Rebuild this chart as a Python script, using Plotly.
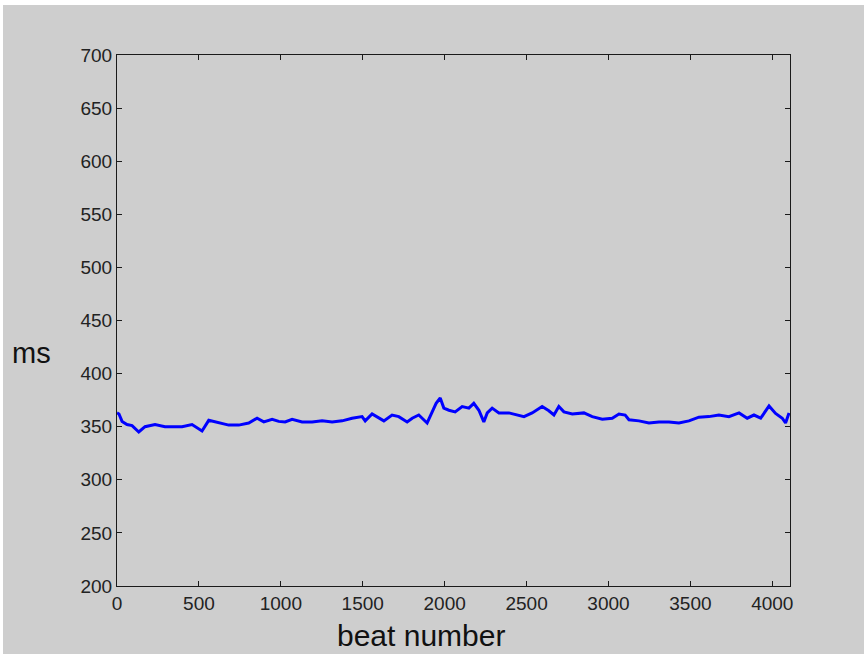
import plotly.graph_objects as go

# Beat-to-beat interval trace (beat index vs. interval in ms)
beats = [0, 12, 31, 61, 92, 133, 171, 232, 293, 354, 397, 458, 519, 560, 621, 682,
         743, 804, 855, 896, 947, 987, 1026, 1069, 1130, 1191, 1252, 1313, 1374, 1435,
         1496, 1515, 1557, 1598, 1629, 1679, 1720, 1771, 1802, 1842, 1893, 1924, 1948,
         1973, 1995, 2026, 2064, 2107, 2148, 2178, 2209, 2239, 2260, 2290, 2331, 2392,
         2453, 2484, 2534, 2595, 2636, 2667, 2697, 2728, 2779, 2850, 2901, 2962, 3023,
         3064, 3102, 3125, 3186, 3247, 3308, 3369, 3430, 3491, 3552, 3613, 3674, 3735,
         3797, 3847, 3888, 3929, 3980, 4020, 4061, 4081, 4102]
ms = [363, 362, 355, 352, 351, 345, 350, 352, 350, 350, 350, 352, 346, 356, 353.5, 351.5,
      351.5, 353.5, 358, 354.5, 357, 355, 354.5, 357, 354.5, 354.5, 355.5, 354.5, 355.5, 358,
      359.5, 355.5, 362, 358, 355.5, 361, 359.5, 354.5, 358, 361, 353.5, 364, 372,
      377, 367.5, 365.5, 364, 369, 367.5, 372, 365.5, 354.5, 363, 367.5, 363, 363,
      361, 359.5, 363, 369, 365, 361, 369, 364, 362, 363, 359.5, 357, 358,
      362, 361, 356.5, 355.5, 353.5, 354.5, 354.5, 353.5, 355.5, 359, 359.5, 361, 359.5,
      363, 358, 361, 358, 369.5, 362.5, 358, 353.5, 363]

x_ticks = [0, 500, 1000, 1500, 2000, 2500, 3000, 3500, 4000]
y_ticks = [200, 250, 300, 350, 400, 450, 500, 550, 600, 650, 700]
x_range = [0, 4108]
y_range = [200, 700]

FONT = "Liberation Sans, Arial, sans-serif"

fig = go.Figure()
fig.add_trace(go.Scatter(x=beats, y=ms, mode="lines",
                         line=dict(color="#0000ff", width=3), hoverinfo="skip"))

axis_common = dict(showgrid=False, zeroline=False, showline=True, mirror="ticks",
                   linecolor="#1a1a1a", linewidth=1, ticks="inside", ticklen=5,
                   tickcolor="#1a1a1a", tickfont=dict(family=FONT, size=19, color="#222"))

fig.update_xaxes(range=x_range, tickvals=x_ticks, ticktext=[str(v) for v in x_ticks],
                 **axis_common)
fig.update_yaxes(range=y_range, tickvals=y_ticks, ticktext=[str(v) for v in y_ticks],
                 **axis_common)

fig.update_layout(
    width=864, height=654,
    margin=dict(l=117, r=74, t=55, b=68),
    paper_bgcolor="#ffffff",
    plot_bgcolor="#ffffff",
    showlegend=False,
    # grey figure window, leaving a thin white strip along the top and left edges
    shapes=[dict(type="rect", xref="paper", yref="paper", layer="below",
                 x0=(3 - 117) / 673, x1=(864 - 117) / 673,
                 y0=-68 / 531, y1=(654 - 68 - 5) / 531,
                 fillcolor="#cecece", line=dict(width=0))],
    annotations=[
        dict(text="ms", xref="paper", yref="paper", x=-0.159, y=0.4388,
             xanchor="left", yanchor="middle", showarrow=False,
             font=dict(family=FONT, size=29, color="#111")),
        dict(text="beat number", xref="paper", yref="paper", x=0.4517, y=-0.094,
             xanchor="center", yanchor="middle", showarrow=False,
             font=dict(family=FONT, size=30, color="#111")),
    ],
)

fig.write_html("out.html")
